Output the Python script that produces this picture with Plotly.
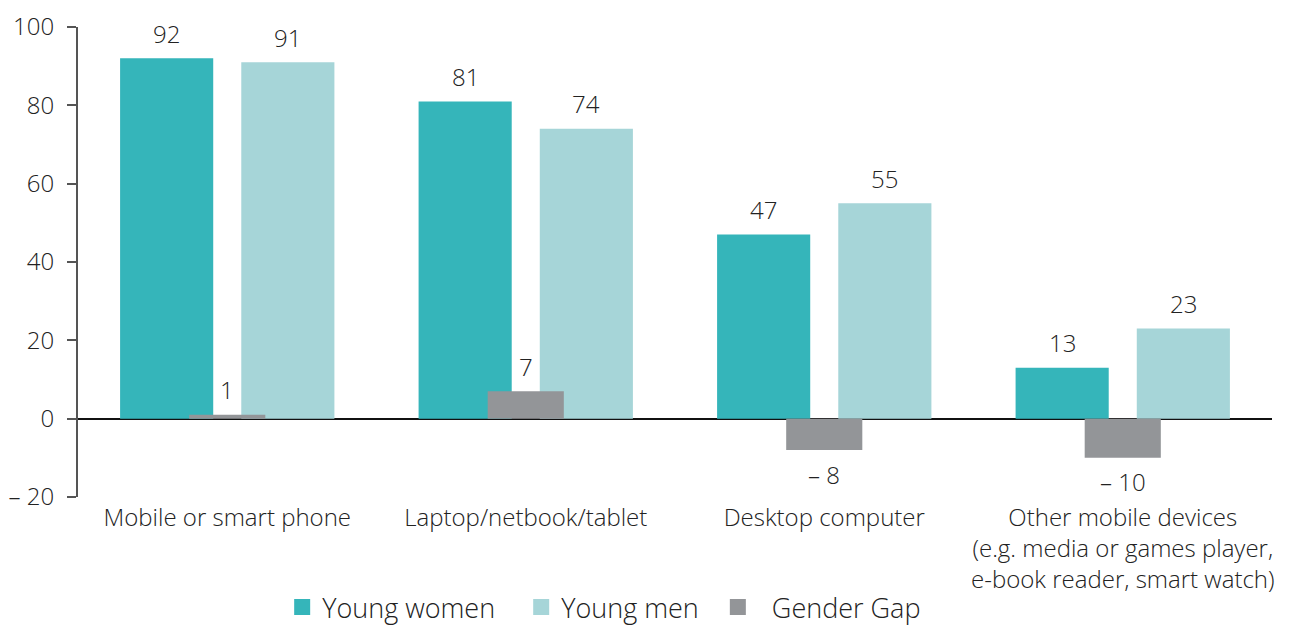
import plotly.graph_objects as go

categories = ["Mobile or smart phone", "Laptop/netbook/tablet", "Desktop computer",
              "Other mobile devices<br>(e.g. media or games player,<br>e-book reader, smart watch)"]
young_women = [92, 81, 47, 13]
young_men = [91, 74, 55, 23]
gender_gap = [1, 7, -8, -10]
y_tickvals = [-20, 0, 20, 40, 60, 80, 100]
y_ticktext = ["– 20", "0", "20", "40", "60", "80", "100"]

C_W = "#35B5BA"
C_M = "#A6D5D8"
C_G = "#939598"
FONT = dict(family="Open Sans", size=24, color="#222222", weight=300)
NB = "\u00a0"

def fmt(v):
    return f"– {abs(v)}" if v < 0 else str(v)

idx = list(range(len(categories)))
fig = go.Figure()
bw = 0.312
gw = 0.255
off = 0.203
series = [
    ("Young women" + NB * 3, young_women, C_W, bw, -off - bw / 2),
    ("Young men" + NB * 2, young_men, C_M, bw, off - bw / 2),
    (NB * 2 + "Gender Gap", gender_gap, C_G, gw, -gw / 2),
]
for name, vals, col, w, o in series:
    fig.add_trace(go.Bar(x=idx, y=vals, name=name, showlegend=False,
                         marker=dict(color=col, line_width=0), width=w, offset=o))
for name, vals, col, w, o in series:
    fig.add_trace(go.Scatter(x=[None], y=[None], mode="markers", name=name,
                             marker=dict(symbol="square", size=18, color=col, line_width=0)))

ann = []
for i in idx:
    for dx, v in ((-off, young_women[i]), (off, young_men[i]), (0, gender_gap[i])):
        ann.append(dict(x=i + dx, y=v, xref="x", yref="y", text=fmt(v), showarrow=False,
                        yanchor="middle", yshift=25 if v >= 0 else -24, font=FONT))

fig.update_layout(
    width=1289, height=626,
    margin=dict(l=70, r=25, t=19, b=137, autoexpand=False),
    paper_bgcolor="white", plot_bgcolor="white",
    barmode="overlay",
    font=FONT,
    annotations=ann,
    showlegend=True,
    legend=dict(orientation="h", x=0.171, xanchor="left", y=-0.183, yanchor="top",
                font=dict(family="Open Sans", size=27, color="#222222", weight=300),
                itemwidth=30, traceorder="normal"),
    xaxis=dict(tickmode="array", tickvals=idx, ticktext=categories, range=[-0.5, 3.5],
               showline=False, ticks="", showgrid=False, zeroline=False,
               tickfont=FONT, automargin=False, ticklabelstandoff=4),
    yaxis=dict(range=[-20, 100], tickvals=y_tickvals, ticktext=y_ticktext,
               showline=True, linecolor="#555555", linewidth=2, ticks="outside",
               ticklen=9, tickwidth=2, tickcolor="#555555", showgrid=False,
               zeroline=True, zerolinecolor="#111111", zerolinewidth=1.5,
               tickfont=FONT, ticklabelstandoff=8, automargin=False,
               ticklabeloverflow="allow"),
)

fig.write_html("out.html")
